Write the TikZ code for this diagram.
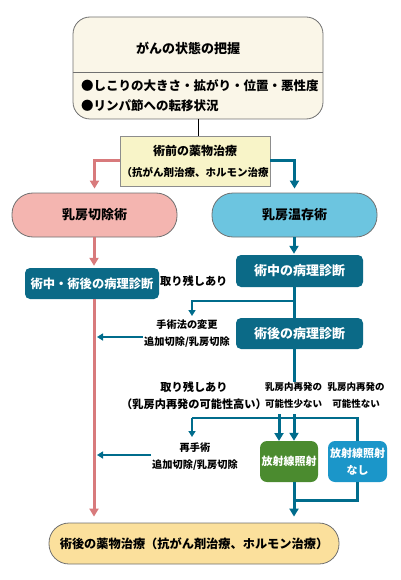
\documentclass[tikz,border=0pt]{standalone}
\usepackage{fontspec}
\setmainfont{Noto Sans CJK JP}
\usetikzlibrary{arrows.meta}
\definecolor{cream}{HTML}{FAF6E8}
\definecolor{preyel}{HTML}{F8F4C8}
\definecolor{redc}{HTML}{D87A7C}
\definecolor{tealc}{HTML}{006C8C}
\definecolor{tealbox}{HTML}{0B6A87}
\definecolor{pinkc}{HTML}{F4B5B0}
\definecolor{skyc}{HTML}{6CC5E0}
\definecolor{greenc}{HTML}{4B8B2F}
\definecolor{bluec}{HTML}{1B96C9}
\definecolor{goldc}{HTML}{FBE09C}
\definecolor{edgec}{HTML}{707070}
\tikzset{
  base/.style={inner sep=0pt, align=center, font=\bfseries},
  topbox/.style={base, draw=edgec, line width=0.8pt, fill=cream, rounded corners=17pt},
  prebox/.style={base, draw=edgec!80, line width=0.8pt, fill=preyel},
  oval/.style={base, draw=edgec, line width=0.8pt, rounded corners=21pt, font=\bfseries\fontsize{13}{15}\selectfont},
  darkbox/.style={base, fill=tealbox, rounded corners=5pt, text=white, font=\bfseries\fontsize{13}{15}\selectfont},
  smallbox/.style={base, rounded corners=7pt, text=white, font=\bfseries\fontsize{11}{17}\selectfont},
  lbl/.style={base, font=\bfseries\fontsize{10.2}{17}\selectfont},
  lblb/.style={base, font=\bfseries\fontsize{11.2}{17}\selectfont},
  lbls/.style={base, font=\bfseries\fontsize{9.5}{17}\selectfont},
  redline/.style={draw=redc, line width=3pt},
  tealthick/.style={draw=tealc, line width=3pt},
  tealmid/.style={draw=tealc, line width=2.6pt},
  tealthin/.style={draw=tealc, line width=2pt},
  arrb/.style={-{Triangle[width=9pt,length=8pt]}},
  arrs/.style={-{Triangle[width=7pt,length=6pt]}},
}
\begin{document}
\begin{tikzpicture}[x=1pt,y=-1pt]
\useasboundingbox (0,0) rectangle (400,580);
% top box
\node[topbox, minimum width=250pt, minimum height=102pt] (top) at (198,68) {};
\draw[draw=edgec, line width=0.8pt] (top.west |- 0,72) -- (top.east |- 0,72);
\node[base, font=\bfseries\fontsize{13}{15}\selectfont] (title) at (188,48) {がんの状態の把握};
\node[base, anchor=west, font=\bfseries\fontsize{12.5}{15}\selectfont] (b1) at (81,86) {●しこりの大きさ・拡がり・位置・悪性度};
\node[base, anchor=west, font=\bfseries\fontsize{12.5}{15}\selectfont] (b2) at (81,106) {●リンパ節への転移状況};
% pre box
\node[prebox, minimum width=150pt, minimum height=50pt] (pre) at (195,161) {};
\node[base, font=\bfseries\fontsize{12}{14}\selectfont] (pre1) at (195,151) {術前の薬物治療};
\node[base, font=\bfseries\fontsize{10.5}{14}\selectfont] (pre2) at (195,172) {（抗がん剤治療、ホルモン治療};
\draw[line width=0.8pt] (top.south |- 0,119) -- (top.south |- pre.north);
% ovals
\node[oval, fill=pinkc, minimum width=165pt, minimum height=44pt] (lov) at (94.5,215) {乳房切除術};
\node[oval, fill=skyc, minimum width=165pt, minimum height=44pt] (rov) at (294.5,215) {乳房温存術};
\draw[redline, arrb, shorten >=4pt] (pre.west) -| (lov.north);
\draw[tealthick, arrb, shorten >=4pt] (pre.east) -| (rov.north);
% left column
\node[darkbox, minimum width=134pt, minimum height=31pt, font=\bfseries\fontsize{12.3}{15}\selectfont] (lbox) at (92,283.5) {術中・術後の病理診断};
\node[lblb, anchor=west] (rest) at (160,281) {取り残しあり};
\coordinate (lc) at (94,0);
\draw[redline, arrb, shorten >=2pt] (lc |- lov.south) -- (lc |- lbox.north);
% right column
\coordinate (rc) at (294,0);
\node[darkbox, minimum width=127pt, minimum height=32pt] (rb1) at (299.5,271) {術中の病理診断};
\node[darkbox, minimum width=127pt, minimum height=31pt] (rb2) at (299.5,333.5) {術後の病理診断};
\draw[tealthick, arrb, shorten >=1pt] (rc |- rov.south) -- (rc |- rb1.north);
\draw[tealthick] (rc |- rb1.south) -- (rc |- rb2.north);
\coordinate (br1) at (294,301);
\coordinate (br1t) at (192,316);
\draw[tealthin, arrs] (br1) -| (br1t);
\node[lbl] (chg) at (187,333.5) {手術法の変更\\追加切除/乳房切除};
\coordinate (lt1) at (97,337);
\draw[tealthin, arrs] (chg.west |- 0,337) ++(-1,0) -- (lt1);
% lower labels
\node[lblb] (rem2) at (194,396) {取り残しあり\\（乳房内再発の可能性高い）};
\node[lbls] (few) at (293.5,395.5) {乳房内再発の\\可能性少ない};
\node[lbls] (none) at (356,395.5) {乳房内再発の\\可能性ない};
% treatment boxes
\node[smallbox, fill=greenc, minimum width=58pt, minimum height=41pt] (rad) at (289,461.5) {放射線照射};
\node[smallbox, fill=bluec, minimum width=59pt, minimum height=41pt] (norad) at (357.5,461.5) {放射線照射\\なし};
\coordinate (hl) at (192,418);
\coordinate (hlt) at (192,437);
\draw[tealthick] (rc |- rb2.south) -- (rc |- few.north);
\draw[tealthick, arrb] (rc |- 0,414) -- (rc |- rad.north);
\draw[tealthick, arrb] (279,414) -- (279,441);
\draw[tealmid] (norad.north) |- (hl);
\draw[tealthin, arrs] (hl) -- (hlt);
\node[lbl] (reop) at (195,456.5) {再手術\\追加切除/乳房切除};
\coordinate (lt2) at (97,455);
\draw[tealthin, arrs] (reop.west |- 0,455) ++(-1,0) -- (lt2);
% bottom
\node[oval, fill=goldc, minimum width=290pt, minimum height=41pt, rounded corners=20pt, font=\bfseries\fontsize{12.2}{15}\selectfont] (post) at (194,543.5) {術後の薬物治療（抗がん剤治療、ホルモン治療）};
\draw[redline, arrb, shorten >=6pt] (lc |- lbox.south) -- (lc |- post.north);
\draw[tealthick, arrb, shorten >=6pt] (rc |- rad.south) -- (rc |- post.north);
\draw[tealthick] (norad.south) |- (rc |- 0,500);
\end{tikzpicture}
\end{document}
